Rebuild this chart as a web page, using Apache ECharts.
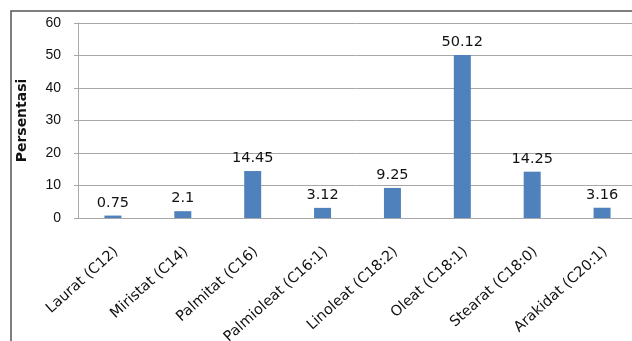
<!DOCTYPE html>
<html>
<head>
<meta charset="utf-8">
<script src="https://cdn.jsdelivr.net/npm/echarts@6/dist/echarts.min.js"></script>
<style>
  html, body { margin: 0; padding: 0; background: #fff; }
  #chart { width: 632px; height: 341px; }
</style>
</head>
<body>
<div id="chart"></div>
<script>
// Fatty acid composition (percent)
const categories = [
  'Laurat (C12)', 'Miristat (C14)', 'Palmitat (C16)', 'Palmioleat (C16:1)',
  'Linoleat (C18:2)', 'Oleat (C18:1)', 'Stearat (C18:0)', 'Arakidat (C20:1)'
];
const percentages = [0.75, 2.1, 14.45, 3.12, 9.25, 50.12, 14.25, 3.16];
const yAxisName = 'Persentasi';
const yMin = 0, yMax = 60, yStep = 10;

const sansWide = 'DejaVu Sans, Verdana, sans-serif';
const sansNarrow = 'Liberation Sans, Arial, sans-serif';
const chart = echarts.init(document.getElementById('chart'));

chart.setOption({
  animation: false,
  grid: {
    left: 78, right: -5, top: 23, bottom: 123,
    containLabel: false,
    outerBoundsMode: 'none'
  },
  graphic: [
    // frame: left and top edges of the chart box
    { type: 'polyline', silent: true,
      shape: { points: [[11, 350], [11, 11], [650, 11]] },
      style: { stroke: '#555', lineWidth: 1.5, fill: null } }
  ],
  xAxis: {
    type: 'category',
    data: categories,
    axisLine: { show: true, lineStyle: { color: '#a8a8a8', width: 1 } },
    axisTick: { show: false },
    axisLabel: {
      rotate: 42,
      interval: 0,
      margin: 28,
      align: 'right',
      verticalAlign: 'top',
      lineHeight: 10,
      color: '#111',
      fontSize: 14.5,
      fontFamily: sansWide
    }
  },
  yAxis: {
    type: 'value',
    min: yMin, max: yMax, interval: yStep,
    name: yAxisName,
    nameLocation: 'middle',
    nameGap: 49,
    nameTextStyle: { fontSize: 14, fontWeight: 'bold', color: '#111', fontFamily: sansWide },
    axisLine: { show: true, lineStyle: { color: '#a8a8a8', width: 1 } },
    axisTick: { show: true, length: 4, lineStyle: { color: '#a8a8a8' } },
    axisLabel: { margin: 17, color: '#111', fontSize: 14, fontFamily: sansNarrow },
    splitLine: { show: true, lineStyle: { color: '#a8a8a8', width: 1 } }
  },
  series: [{
    type: 'bar',
    data: percentages,
    barWidth: 17,
    itemStyle: { color: '#4f81bd' },
    label: {
      show: true,
      position: 'top',
      distance: 5,
      color: '#111',
      fontSize: 14.5,
      fontFamily: sansWide
    }
  }]
});
</script>
</body>
</html>
